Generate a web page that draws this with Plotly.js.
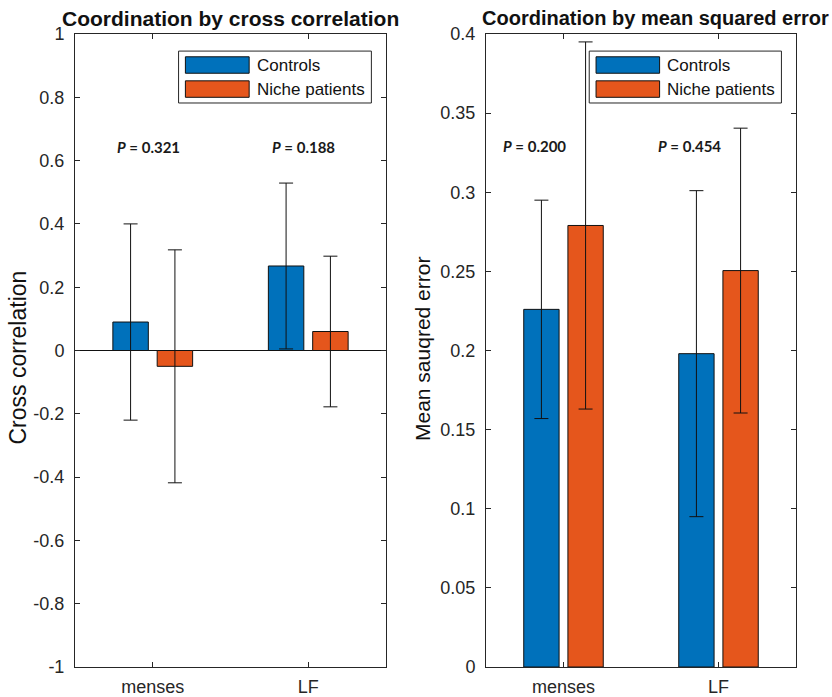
<!DOCTYPE html>
<html>
<head>
<meta charset="utf-8">
<script src="https://cdn.plot.ly/plotly-3.0.1.min.js"></script>
<style>html,body{margin:0;padding:0;background:#fff;}#chart{width:832px;height:697px;}</style>
</head>
<body>
<div id="chart"></div>
<script>
// ---- data ----
const categories = ['menses', 'LF'];
const seriesNames = ['Controls', 'Niche patients'];

const ccControls = [0.090, 0.267];
const ccControlsErr = [0.310, 0.262];
const ccNiche = [-0.050, 0.060];
const ccNicheErr = [0.368, 0.238];

const mseControls = [0.226, 0.198];
const mseControlsErr = [0.069, 0.103];
const mseNiche = [0.279, 0.2505];
const mseNicheErr = [0.116, 0.090];

const ccPValues = ['0.321', '0.188'];
const msePValues = ['0.200', '0.454'];

const ccTickVals = [-1, -0.8, -0.6, -0.4, -0.2, 0, 0.2, 0.4, 0.6, 0.8, 1];
const ccTickText = ['-1', '-0.8', '-0.6', '-0.4', '-0.2', '0', '0.2', '0.4', '0.6', '0.8', '1'];
const mseTickVals = [0, 0.05, 0.1, 0.15, 0.2, 0.25, 0.3, 0.35, 0.4];
const mseTickText = ['0', '0.05', '0.1', '0.15', '0.2', '0.25', '0.3', '0.35', '0.4'];

const titles = ['Coordination by cross correlation', 'Coordination by mean squared error'];
const yTitles = ['Cross correlation', 'Mean sauqred error'];

// ---- styles ----
const BLUE = '#0071BB';
const ORANGE = '#E5561C';
const AX = '#262626';
const FONT = 'Liberation Sans, Arial, sans-serif';

function barTrace(name, y, err, color, xa, ya) {
  return {
    type: 'bar', name: name, x: categories, y: y,
    xaxis: xa, yaxis: ya,
    marker: {color: color, line: {color: '#111', width: 1}},
    error_y: {type: 'data', array: err, visible: true, color: '#111', thickness: 1, width: 7},
    showlegend: false, hoverinfo: 'x+y'
  };
}

const data = [
  barTrace(seriesNames[0], ccControls, ccControlsErr, BLUE, 'x', 'y'),
  barTrace(seriesNames[1], ccNiche, ccNicheErr, ORANGE, 'x', 'y'),
  barTrace(seriesNames[0], mseControls, mseControlsErr, BLUE, 'x2', 'y2'),
  barTrace(seriesNames[1], mseNiche, mseNicheErr, ORANGE, 'x2', 'y2')
];

function xAxis(domain, anchor) {
  return {
    domain: domain, anchor: anchor, type: 'category', range: [-0.5, 1.5],
    showline: true, linecolor: AX, linewidth: 1, mirror: 'ticks',
    ticks: 'inside', ticklen: 5, tickcolor: AX, tickwidth: 1,
    ticklabelstandoff: 3,
    tickfont: {family: FONT, size: 18, color: AX},
    showgrid: false, zeroline: false, fixedrange: true
  };
}
function yAxis(anchor, range, tv, tt, zl) {
  return {
    anchor: anchor, domain: [0, 1], range: range,
    tickmode: 'array', tickvals: tv, ticktext: tt,
    showline: true, linecolor: AX, linewidth: 1, mirror: 'ticks',
    ticks: 'inside', ticklen: 5, tickcolor: AX, tickwidth: 1,
    ticklabelstandoff: 6,
    tickfont: {family: FONT, size: 18, color: AX},
    showgrid: false,
    zeroline: zl, zerolinecolor: '#111', zerolinewidth: 1,
    fixedrange: true
  };
}

const shapes = [];
const annotations = [];

// legends (drawn per panel)
[['x', 'y'], ['x2', 'y2']].forEach(function (p) {
  const xr = p[0] + ' domain', yr = p[1] + ' domain';
  shapes.push({type: 'rect', xref: xr, yref: yr, x0: 0.333, x1: 0.953, y0: 0.891, y1: 0.973,
    line: {color: AX, width: 1}, fillcolor: '#fff'});
  shapes.push({type: 'rect', xref: xr, yref: yr, x0: 0.355, x1: 0.560, y0: 0.938, y1: 0.964,
    line: {color: '#111', width: 1}, fillcolor: BLUE});
  shapes.push({type: 'rect', xref: xr, yref: yr, x0: 0.355, x1: 0.560, y0: 0.900, y1: 0.926,
    line: {color: '#111', width: 1}, fillcolor: ORANGE});
  annotations.push({xref: xr, yref: yr, x: 0.578, y: 0.951, text: seriesNames[0], showarrow: false,
    xanchor: 'left', yanchor: 'middle', font: {family: FONT, size: 17, color: '#111'}});
  annotations.push({xref: xr, yref: yr, x: 0.578, y: 0.913, text: seriesNames[1], showarrow: false,
    xanchor: 'left', yanchor: 'middle', font: {family: FONT, size: 17, color: '#111'}});
});

// panel titles
annotations.push({xref: 'paper', yref: 'paper', x: 230 / 832, y: 1, yshift: 2, yanchor: 'bottom', xanchor: 'center',
  text: '<b>' + titles[0] + '</b>', showarrow: false, font: {family: FONT, size: 21, color: '#111'}});
annotations.push({xref: 'paper', yref: 'paper', x: 655 / 832, y: 1, yshift: 3, yanchor: 'bottom', xanchor: 'center',
  text: '<b>' + titles[1] + '</b>', showarrow: false, font: {family: FONT, size: 20, color: '#111'}});

// y-axis titles
annotations.push({xref: 'paper', yref: 'paper', x: 17.5 / 832, y: 1 - (358 - 34) / 633, textangle: -90,
  xanchor: 'center', yanchor: 'middle', text: yTitles[0], showarrow: false,
  font: {family: FONT, size: 23, color: '#111'}});
annotations.push({xref: 'paper', yref: 'paper', x: 423 / 832, y: 1 - (349 - 34) / 633, textangle: -90,
  xanchor: 'center', yanchor: 'middle', text: yTitles[1], showarrow: false,
  font: {family: FONT, size: 21, color: '#111'}});

// P-value labels
const pFont = {family: 'Lato, Open Sans, sans-serif', size: 15, color: '#1a1a1a', weight: 'bold'};
ccPValues.forEach(function (v, i) {
  annotations.push({xref: 'x', yref: 'y', x: i - 0.03, y: 0.643, text: '<i>P</i> = ' + v, showarrow: false,
    xanchor: 'center', yanchor: 'middle', font: pFont});
});
msePValues.forEach(function (v, i) {
  annotations.push({xref: 'x2', yref: 'y2', x: i - 0.19, y: 0.329, text: '<i>P</i> = ' + v, showarrow: false,
    xanchor: 'center', yanchor: 'middle', font: pFont});
});

const layout = {
  width: 832, height: 697,
  margin: {l: 0, r: 0, t: 34, b: 30, pad: 0},
  paper_bgcolor: '#fff', plot_bgcolor: '#fff',
  barmode: 'group', bargap: 0.43, bargroupgap: 0.2,
  showlegend: false,
  xaxis: xAxis([75 / 832, 386 / 832], 'y'),
  yaxis: yAxis('x', [-1, 1], ccTickVals, ccTickText, true),
  xaxis2: xAxis([486 / 832, 796 / 832], 'y2'),
  yaxis2: yAxis('x2', [0, 0.4], mseTickVals, mseTickText, false),
  shapes: shapes,
  annotations: annotations
};

Plotly.newPlot('chart', data, layout, {displayModeBar: false, staticPlot: true});
</script>
</body>
</html>
